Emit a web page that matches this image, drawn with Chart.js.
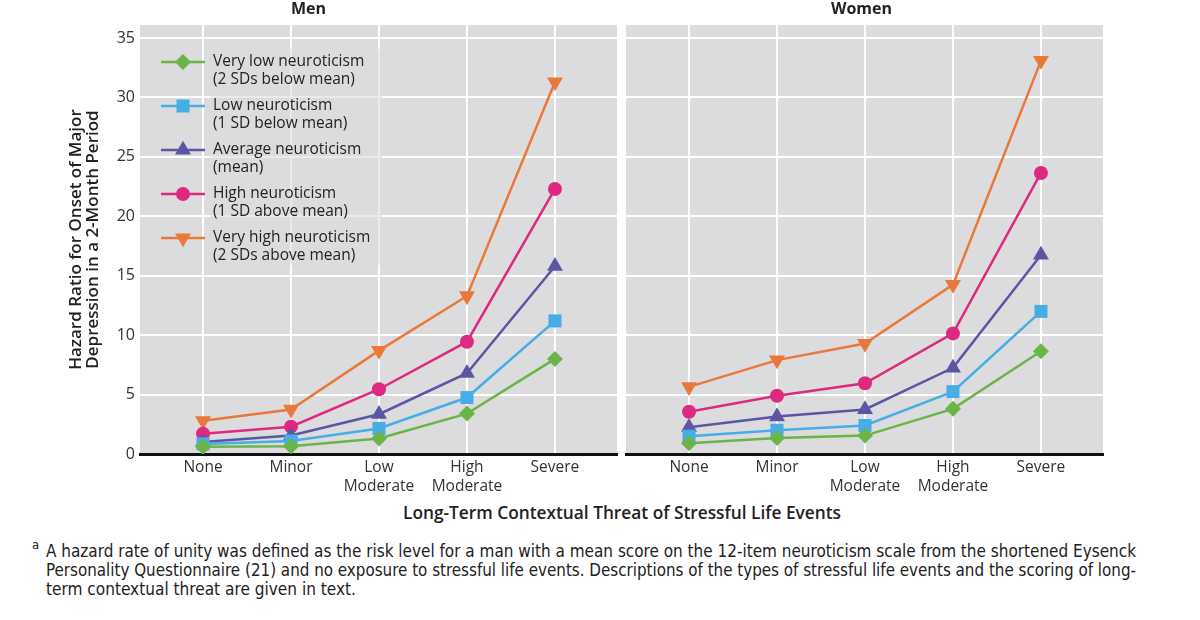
<!DOCTYPE html>
<html><head><meta charset="utf-8">
<script src="https://cdn.jsdelivr.net/npm/chart.js@4.4.0/dist/chart.umd.min.js"></script>
<style>
html,body{margin:0;padding:0;background:#fff;width:1200px;height:620px;overflow:hidden;}
canvas{position:absolute;top:0;}
#men{left:0;width:620px;height:500px;}
#women{left:620px;width:500px;height:500px;}
.xt{position:absolute;left:0;width:1244px;top:502px;text-align:center;font:600 17.3px 'Open Sans';color:#222;line-height:22px;}
.fn{position:absolute;left:46px;font:17.5px 'Liberation Sans Narrow','DejaVu Sans Condensed';color:#222;white-space:nowrap;transform-origin:0 0;line-height:19px;}
.sup{position:absolute;left:32px;top:537px;font:13px 'Liberation Sans Narrow','DejaVu Sans Condensed';color:#222;}
</style></head><body>
<canvas id="men" width="620" height="500"></canvas>
<canvas id="women" width="500" height="500"></canvas>
<div class="xt">Long-Term Contextual Threat of Stressful Life Events</div>
<div class="sup">a</div>
<div class="fn" id="f1" style="top:542px">A hazard rate of unity was defined as the risk level for a man with a mean score on the 12-item neuroticism scale from the shortened Eysenck</div>
<div class="fn" id="f2" style="top:561px">Personality Questionnaire (21) and no exposure to stressful life events. Descriptions of the types of stressful life events and the scoring of long-</div>
<div class="fn" id="f3" style="top:580px">term contextual threat are given in text.</div>
<script>
// ---- data ----
const categories = [['None'], ['Minor'], ['Low', 'Moderate'], ['High', 'Moderate'], ['Severe']];
const seriesLabels = ['Very low neuroticism', 'Low neuroticism', 'Average neuroticism', 'High neuroticism', 'Very high neuroticism'];
const seriesNotes = ['(2 SDs below mean)', '(1 SD below mean)', '(mean)', '(1 SD above mean)', '(2 SDs above mean)'];
const yTicks = [0, 5, 10, 15, 20, 25, 30, 35];

const menVeryLow  = [0.6, 0.65, 1.3, 3.4, 8.0];
const menLow      = [0.85, 1.1, 2.15, 4.75, 11.2];
const menAverage  = [1.0, 1.55, 3.35, 6.8, 15.8];
const menHigh     = [1.7, 2.3, 5.45, 9.45, 22.3];
const menVeryHigh = [2.8, 3.75, 8.7, 13.3, 31.3];

const womenVeryLow  = [0.9, 1.35, 1.55, 3.8, 8.65];
const womenLow      = [1.5, 2.0, 2.4, 5.25, 12.0];
const womenAverage  = [2.25, 3.15, 3.75, 7.25, 16.75];
const womenHigh     = [3.55, 4.9, 5.95, 10.15, 23.65];
const womenVeryHigh = [5.65, 7.9, 9.3, 14.25, 33.1];

// ---- styles ----
const colors = ['#6ab547', '#46ade6', '#5b56a3', '#dd2a80', '#e9793a'];
const pStyles = ['rectRot', 'rect', 'triangle', 'circle', 'triangle'];
const pRot = [0, 0, 0, 0, 180];
const pRad = [8, 9.2, 9.2, 7, 9.2];
const FONT = "'Open Sans'";
const GRAY = '#dcdcde';

function makeDatasets(arrs) {
  return arrs.map((vals, i) => ({
    label: seriesLabels[i],
    data: vals.map((v, j) => ({x: j, y: v})),
    borderColor: colors[i],
    backgroundColor: colors[i],
    borderWidth: 2.5,
    pointStyle: pStyles[i],
    rotation: pRot[i],
    pointRadius: pRad[i],
    pointHoverRadius: pRad[i],
    pointBorderWidth: 0,
    tension: 0
  }));
}

const bgPlugin = {
  id: 'bg',
  beforeDraw(chart) {
    const a = chart.chartArea, ctx = chart.ctx;
    ctx.save(); ctx.fillStyle = GRAY;
    ctx.fillRect(a.left, a.top, a.right - a.left, a.bottom - a.top);
    ctx.restore();
  }
};

const legendPlugin = {
  id: 'inlegend',
  beforeDatasetsDraw(chart) {
    const a = chart.chartArea, ctx = chart.ctx;
    const x0 = a.left + 21, y0 = a.top + 37, step = 44;
    ctx.save();
    ctx.fillStyle = 'rgba(220,220,222,0.6)';
    ctx.fillRect(x0 + 49, y0 - 13, 172, step * 4 + 40);
    chart.data.datasets.forEach((d, i) => {
      const y = y0 + i * step;
      ctx.strokeStyle = d.borderColor; ctx.lineWidth = 2.5;
      ctx.beginPath(); ctx.moveTo(x0, y); ctx.lineTo(x0 + 44, y); ctx.stroke();
      ctx.fillStyle = d.backgroundColor;
      Chart.helpers.drawPoint(ctx, {pointStyle: d.pointStyle, rotation: d.rotation, radius: d.pointRadius, borderWidth: 0}, x0 + 22, y);
      ctx.fillStyle = '#222';
      ctx.font = "15.5px " + FONT;
      ctx.textBaseline = 'middle';
      ctx.fillText(seriesLabels[i], x0 + 52, y);
      ctx.fillText(seriesNotes[i], x0 + 52, y + 18);
    });
    ctx.restore();
  }
};

function makeChart(id, title, arrs, isMen) {
  const yScale = {
    type: 'linear', min: 0, max: 36.1,
    afterBuildTicks: s => { s.ticks = yTicks.map(v => ({value: v})); },
    grid: {color: '#ffffff', lineWidth: 2, drawTicks: false},
    border: {display: false},
    ticks: {display: isMen, color: '#333', padding: 5, font: {family: FONT, size: 16}},
    afterFit: s => { s.width = isMen ? 140 : 6; s.paddingTop = 0; s.paddingBottom = 0; }
  };
  if (isMen) {
    yScale.title = {
      display: true,
      text: ['Hazard Ratio for Onset of Major', 'Depression in a 2-Month Period'],
      color: '#222',
      font: {family: FONT, size: 17, weight: '600', lineHeight: 1.0},
      padding: {top: 67.5, bottom: 0}
    };
  }
  return new Chart(document.getElementById(id), {
    type: 'line',
    data: {datasets: makeDatasets(arrs)},
    options: {
      responsive: false, animation: false, devicePixelRatio: 1,
      layout: {autoPadding: false, padding: {left: 0, top: 0, right: isMen ? 3 : 17, bottom: 0}},
      plugins: {
        legend: {display: false}, tooltip: {enabled: false},
        title: {display: true, text: title, color: '#222', font: {family: FONT, size: 16, weight: 'bold', lineHeight: 1.2}, padding: {top: 0, bottom: 5.8}}
      },
      scales: {
        x: {
          type: 'linear', min: -0.716, max: 4.705,
          afterBuildTicks: s => { s.ticks = categories.map((c, i) => ({value: i})); },
          grid: {color: '#ffffff', lineWidth: 2, drawTicks: false},
          border: {color: '#111', width: 3},
          ticks: {color: '#333', padding: 4, maxRotation: 0, autoSkip: false,
            font: {family: FONT, size: 15.5, lineHeight: 1.22},
            callback: (v) => categories[v]},
          afterFit: s => { s.height = 46; s.paddingLeft = 0; s.paddingRight = 0; }
        },
        y: yScale
      }
    },
    plugins: isMen ? [bgPlugin, legendPlugin] : [bgPlugin]
  });
}

makeChart('men', 'Men', [menVeryLow, menLow, menAverage, menHigh, menVeryHigh], true);
makeChart('women', 'Women', [womenVeryLow, womenLow, womenAverage, womenHigh, womenVeryHigh], false);

// fit footnote lines to their widths
[['f1', 1090], ['f2', 1090], ['f3', 310]].forEach(([id, w]) => {
  const el = document.getElementById(id);
  const nat = el.getBoundingClientRect().width;
  el.style.transform = 'scaleX(' + (w / nat) + ')';
});
</script>
</body></html>
